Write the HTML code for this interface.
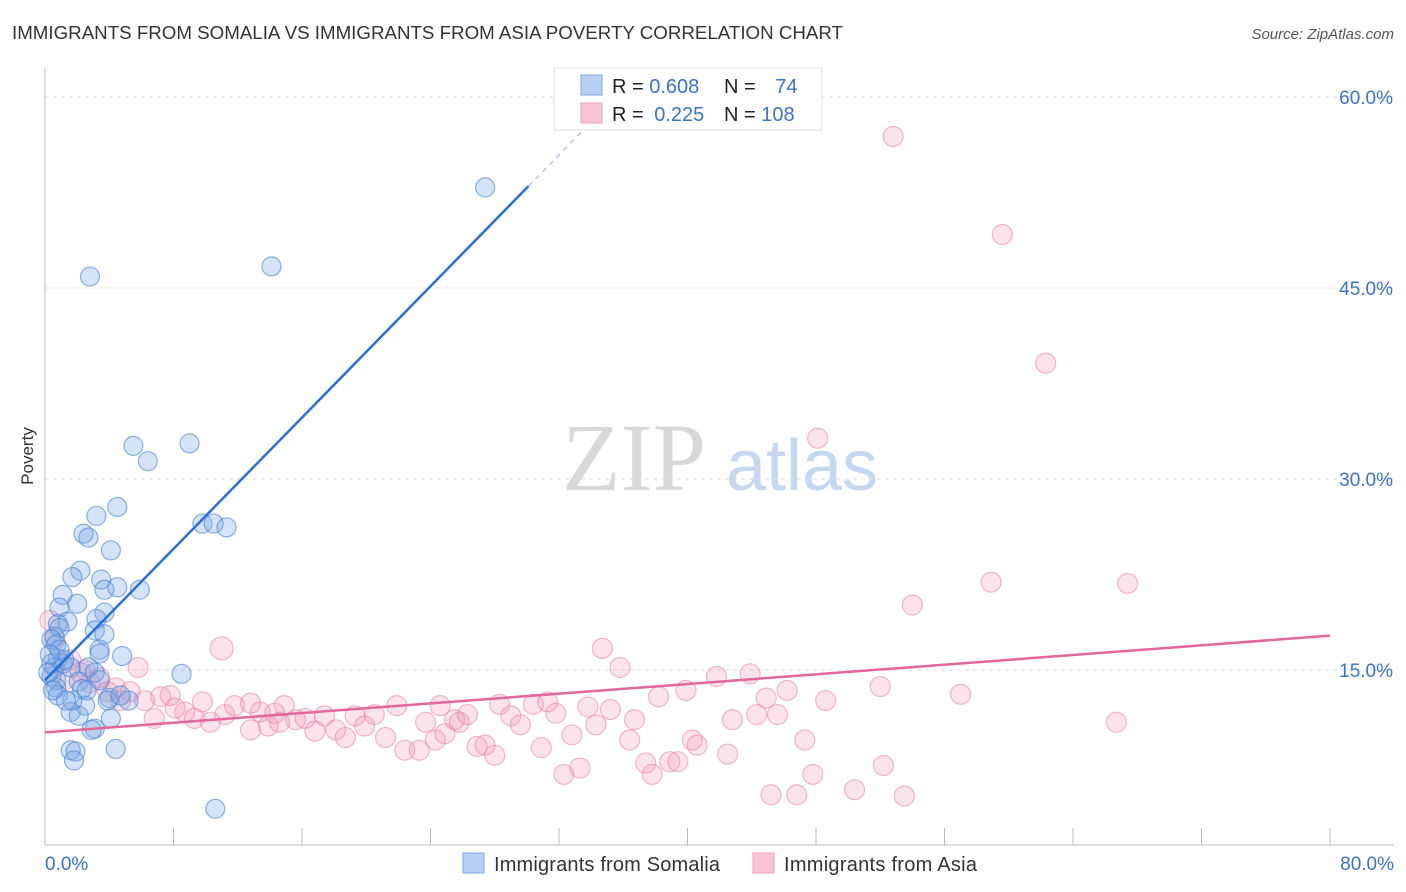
<!DOCTYPE html>
<html><head><meta charset="utf-8"><style>
body{margin:0;background:#fff;font-family:"Liberation Sans",sans-serif}
svg{display:block}
</style></head><body>
<svg id="chart" width="1406" height="892">
<text x="12" y="39" font-size="18" fill="#333" textLength="831" lengthAdjust="spacingAndGlyphs">IMMIGRANTS FROM SOMALIA VS IMMIGRANTS FROM ASIA POVERTY CORRELATION CHART</text>
<text x="1394" y="39" font-size="15" fill="#555" font-style="italic" text-anchor="end">Source: ZipAtlas.com</text>
<text transform="translate(33,456) rotate(-90)" font-size="17" fill="#333" text-anchor="middle">Poverty</text>
<g>
<text x="634" y="490" font-size="96" fill="#d8d8d8" font-family="Liberation Serif,serif" text-anchor="middle">ZIP</text>
<text x="802" y="490" font-size="72" fill="#c5d8f0" text-anchor="middle">atlas</text>
</g>
<g id="grid"></g><g id="axes"></g><g id="pts"></g><g id="lines"></g>
<g>
<rect x="554" y="68" width="268" height="62" fill="#fff" stroke="#ddd"/>
<rect x="581" y="75" width="21" height="20" fill="#b7d0f3" stroke="#7ea8e4"/>
<rect x="581" y="103" width="21" height="20" fill="#f9c5d5" stroke="#eda3ba"/>
<text x="612" y="93" font-size="20" fill="#222">R = <tspan fill="#3a72cc">0.608</tspan></text>
<text x="724" y="93" font-size="20" fill="#222">N = <tspan fill="#3a72cc" dx="14">74</tspan></text>
<text x="612" y="121" font-size="20" fill="#222">R = <tspan fill="#3a72cc" dx="5">0.225</tspan></text>
<text x="724" y="121" font-size="20" fill="#222">N = <tspan fill="#3a72cc">108</tspan></text>
</g>
<g>
<rect x="463" y="853" width="21" height="20" fill="#b7d0f3" stroke="#7ea8e4"/>
<text x="494" y="871" font-size="20" fill="#333" textLength="226">Immigrants from Somalia</text>
<rect x="753" y="853" width="21" height="20" fill="#f9c5d5" stroke="#eda3ba"/>
<text x="784" y="871" font-size="20" fill="#333" textLength="193">Immigrants from Asia</text>
</g>
</svg>
<script>
const yTicks=[15,30,45,60];
const xTickLabels=["0.0%","80.0%"];
const somaliaX=[27.4,2.8,14.1,5.5,6.4,9.0,4.5,3.2,2.4,2.7,9.8,10.5,11.3,4.1,2.2,1.7,3.5,3.7,4.5,5.9,1.1,2.0,0.9,3.7,1.4,3.2,0.8,0.9,3.1,3.7,0.6,0.4,0.7,4.8,3.4,3.4,8.5,0.8,1.1,0.6,1.6,2.7,3.1,0.4,0.7,2.1,2.3,0.7,0.8,4.0,3.9,5.2,2.5,1.6,2.1,4.1,3.1,2.9,1.6,1.9,4.4,1.8,10.6,0.4,0.2,0.5,1.2,0.9,1.7,2.6,3.4,4.7,1.3,0.3];
const somaliaY=[52.9,45.9,46.7,32.6,31.4,32.8,27.8,27.1,25.7,25.4,26.5,26.5,26.2,24.4,22.8,22.3,22.1,21.3,21.5,21.3,20.9,20.2,19.9,19.5,18.8,19.0,18.6,18.3,18.1,17.8,17.6,17.4,17.0,16.1,16.6,16.3,14.7,15.9,15.5,15.2,15.2,15.2,14.8,14.5,14.2,14.1,13.5,13.6,13.0,12.8,12.6,12.6,12.2,11.7,11.4,11.2,10.4,10.3,8.7,8.6,8.8,7.9,4.1,15.5,14.8,13.4,15.8,16.6,12.6,13.4,14.2,13.0,12.6,16.2];
const asiaX=[52.8,59.6,62.3,48.1,58.9,67.4,54.0,34.7,11.0,5.8,35.8,43.9,41.8,52.0,57.0,46.2,39.9,38.2,48.6,44.9,66.7,0.3,0.6,1.6,2.5,3.4,4.4,5.3,6.2,7.2,7.8,8.7,9.3,9.8,10.3,11.2,11.8,12.8,13.4,13.9,14.3,14.9,15.6,16.2,16.8,17.4,18.1,18.7,19.3,19.9,20.5,21.2,21.9,22.4,23.3,23.7,24.3,24.9,25.5,25.8,26.3,26.9,27.4,28.0,28.3,29.0,29.6,30.4,31.3,31.8,30.9,32.3,32.8,33.3,33.8,34.3,35.2,36.4,36.7,37.4,37.8,38.9,39.4,40.3,40.6,42.5,42.8,44.3,45.6,45.2,46.8,47.8,47.3,50.4,52.2,53.5,1.2,2.2,2.8,3.9,4.7,6.8,8.1,12.8,14.6,24.6];
const asiaY=[56.9,49.2,39.1,33.2,21.9,21.8,20.1,16.7,16.7,15.2,15.2,14.7,14.5,13.7,13.1,13.4,13.4,12.9,12.6,12.8,10.9,18.9,17.4,15.8,15.0,14.4,13.6,13.3,12.6,12.9,13.0,11.7,11.2,12.5,10.9,11.5,12.2,12.4,11.7,10.6,11.6,12.2,11.1,11.2,10.2,11.4,10.3,9.7,11.4,10.6,11.5,9.7,12.2,8.7,8.7,10.9,9.5,10.0,11.1,10.9,11.5,9.0,9.1,8.3,12.3,11.4,10.7,12.3,12.5,11.6,8.9,6.8,9.9,7.3,12.1,10.7,11.9,9.5,11.1,7.7,6.8,7.8,7.8,9.5,9.1,8.4,11.1,11.5,11.5,5.2,5.2,6.8,9.5,5.6,7.5,5.1,14.2,14.8,14.0,13.3,12.6,11.2,12.0,10.3,10.9,12.2];
const somaliaTrend=[14.2,53.0]; const somaliaTrendX=[0,30.1]; const somaliaDashEnd=35.7;
const asiaTrend=[10.1,17.7]; const asiaTrendX=[0,80];
const NS="http://www.w3.org/2000/svg";
const X0=45,X1=1330,Y0=861,PPY=191/15;
const sx=v=>X0+(X1-X0)*v/80, sy=v=>Y0-v*PPY;
function mk(parent,tag,attrs){const e=document.createElementNS(NS,tag);for(const k in attrs)e.setAttribute(k,attrs[k]);document.getElementById(parent).appendChild(e);return e;}
yTicks.forEach(t=>{
 const l=mk('grid','line',{x1:45,x2:1394,y1:sy(t),y2:sy(t),stroke:'#ddd','stroke-dasharray':'4,4'});
 
 
 const tx=mk('grid','text',{x:1393,y:sy(t)+7,'font-size':19,fill:'#3a72cc','text-anchor':'end'});
 tx.textContent=t.toFixed(1)+'%';
 
 
});
let a=mk('axes','line',{x1:45,x2:45,y1:68,y2:845,stroke:'#bbb'});


a=mk('axes','line',{x1:45,x2:1394,y1:845,y2:845,stroke:'#bbb'});


for(let i=0;i<=10;i++){const l=mk('axes','line',{x1:sx(i*8),x2:sx(i*8),y1:828,y2:845,stroke:'#bbb'});
 
 }
xTickLabels.forEach((s,i)=>{const t=mk('axes','text',{x:i?1394:45,y:870,'font-size':19,fill:'#3a72cc','text-anchor':i?'end':'start'});t.textContent=s;
 
 });
asiaX.forEach((x,i)=>{const c=mk('pts','circle',{cx:sx(x),cy:sy(asiaY[i]),r:(i===8?11.5:10),fill:'rgba(242,150,182,0.28)',stroke:'rgba(230,130,165,0.55)','stroke-width':1.2});
 
 });
somaliaX.forEach((x,i)=>{const c=mk('pts','circle',{cx:sx(x),cy:sy(somaliaY[i]),r:9.5,fill:'rgba(120,168,230,0.32)',stroke:'rgba(70,128,212,0.6)','stroke-width':1.2});
 
 });
let t1=mk('lines','line',{x1:sx(somaliaTrendX[0]),y1:sy(somaliaTrend[0]),x2:sx(somaliaTrendX[1]),y2:sy(somaliaTrend[1]),stroke:'#2a6fd6','stroke-width':2.5});


const slope=(somaliaTrend[1]-somaliaTrend[0])/(somaliaTrendX[1]-somaliaTrendX[0]);
let t2=mk('lines','line',{x1:sx(somaliaTrendX[1]),y1:sy(somaliaTrend[1]),x2:sx(somaliaDashEnd),y2:sy(somaliaTrend[0]+slope*somaliaDashEnd),stroke:'#9bbbe6','stroke-width':1.2,'stroke-dasharray':'5,5'});


let t3=mk('lines','line',{x1:sx(asiaTrendX[0]),y1:sy(asiaTrend[0]),x2:sx(asiaTrendX[1]),y2:sy(asiaTrend[1]),stroke:'#e2679a','stroke-width':2.5});


</script>
</body></html>
